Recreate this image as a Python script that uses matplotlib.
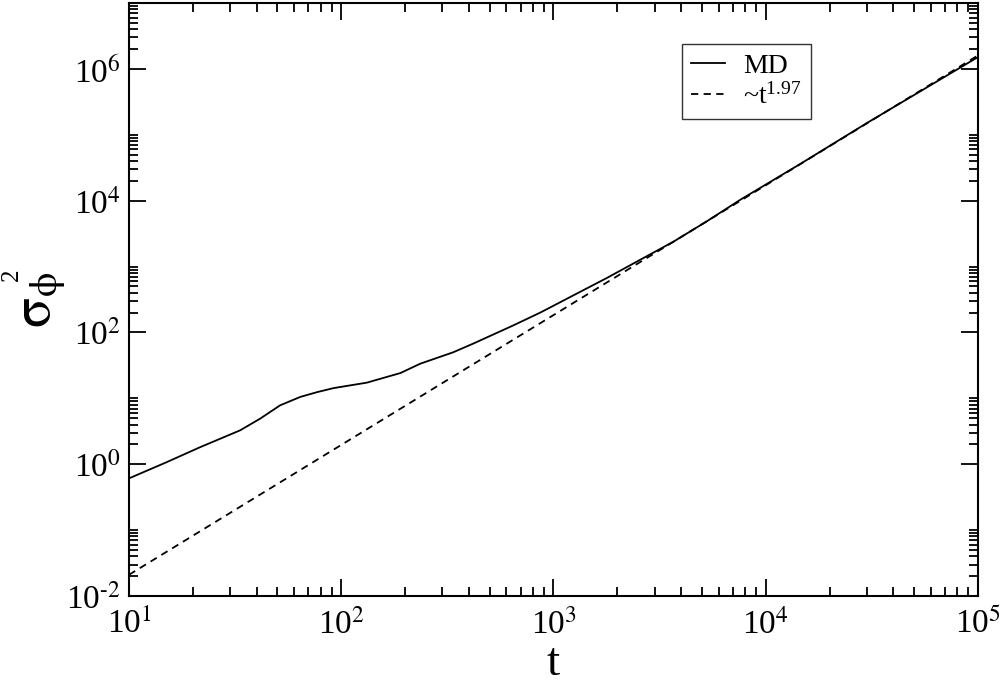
import numpy as np
import matplotlib
matplotlib.use('Agg')
import matplotlib.pyplot as plt

# MD data
t_md = [10, 15, 21.6, 33.4, 41.5, 51.5, 64.1, 76.8, 92, 132, 190, 236, 337, 420,
        647, 869, 1300, 1800, 2600, 3680, 5300, 7620, 14620, 30000, 100000]
s_md = [0.61, 1.07, 1.81, 3.27, 4.92, 7.83, 10.5, 12.4, 14.3, 17.3, 24.2, 33.6, 50, 68,
        128, 201, 395, 681, 1300, 2390, 4900, 10400, 36400, 151000, 1510000]

# ~t^1.97 guide line (end points)
t_fit = [10, 100000]
s_fit = [0.021, 1.6e6]

plt.rcParams['font.family'] = ['Liberation Serif', 'DejaVu Serif']
plt.rcParams['mathtext.fontset'] = 'stix'

fig = plt.figure(figsize=(10.04, 6.86), dpi=100)
ax = fig.add_axes([0.1285, 0.1312, 0.8455, 0.8644])

ax.plot(t_md, s_md, color='black', lw=1.3, label='MD')
ax.plot(t_fit, s_fit, color='black', lw=1.3, ls=(0, (4, 3)),
        label=r'~$\mathregular{t^{1.97}}$')

ax.set_xscale('log')
ax.set_yscale('log')
ax.set_xlim(10, 1e5)
ax.set_ylim(1e-2, 1e7)


def pow_label(v):
    e = int(round(np.log10(v)))
    return r'$\mathregular{10^{\text{%d}}}$' % e


xmaj = [1e1, 1e2, 1e3, 1e4, 1e5]
ymaj = [1e-2, 1e0, 1e2, 1e4, 1e6]
ax.set_xticks(xmaj)
ax.set_xticklabels([pow_label(v) for v in xmaj])
ax.set_yticks(ymaj)
ax.set_yticklabels([pow_label(v) for v in ymaj])

xmin = [k * 10.0 ** d for d in range(1, 5) for k in range(2, 10)]
ymin = [k * 10.0 ** d for d in (-2, 0, 2, 4, 6) for k in range(2, 11)]
ax.set_xticks(xmin, minor=True)
ax.set_yticks(ymin, minor=True)
ax.set_xticklabels([], minor=True)
ax.set_yticklabels([], minor=True)

ax.tick_params(which='both', direction='in', top=True, right=True,
               width=1.3, colors='black')
ax.tick_params(which='major', length=12, labelsize=24)
ax.tick_params(which='minor', length=6.5)
ax.tick_params(axis='x', which='major', pad=9)
ax.tick_params(axis='y', which='major', pad=6)
for sp in ax.spines.values():
    sp.set_linewidth(1.5)

ax.set_xlabel(r'$\mathregular{t}$', fontsize=34)
ax.xaxis.set_label_coords(0.5, -0.079)
# sigma with phi subscript; the squared sign sits well above, as in the original
ax.set_ylabel(r'$\mathrm{\sigma}_{\mathrm{\phi}}$', fontsize=40)
ax.yaxis.set_label_coords(-0.072, 0.5)
fig.text(12 / 1004, 1 - 275 / 686, '2', rotation=90, fontsize=18,
         ha='center', va='center')

leg = ax.legend(loc='upper left', bbox_to_anchor=(0.651, 0.931), fontsize=20,
                frameon=True, fancybox=False, handlelength=1.2,
                handletextpad=0.65, borderpad=0.35, labelspacing=0.15,
                borderaxespad=0)
leg.get_frame().set_edgecolor('black')
leg.get_frame().set_linewidth(1.0)

fig.savefig('out.png', dpi=100)
